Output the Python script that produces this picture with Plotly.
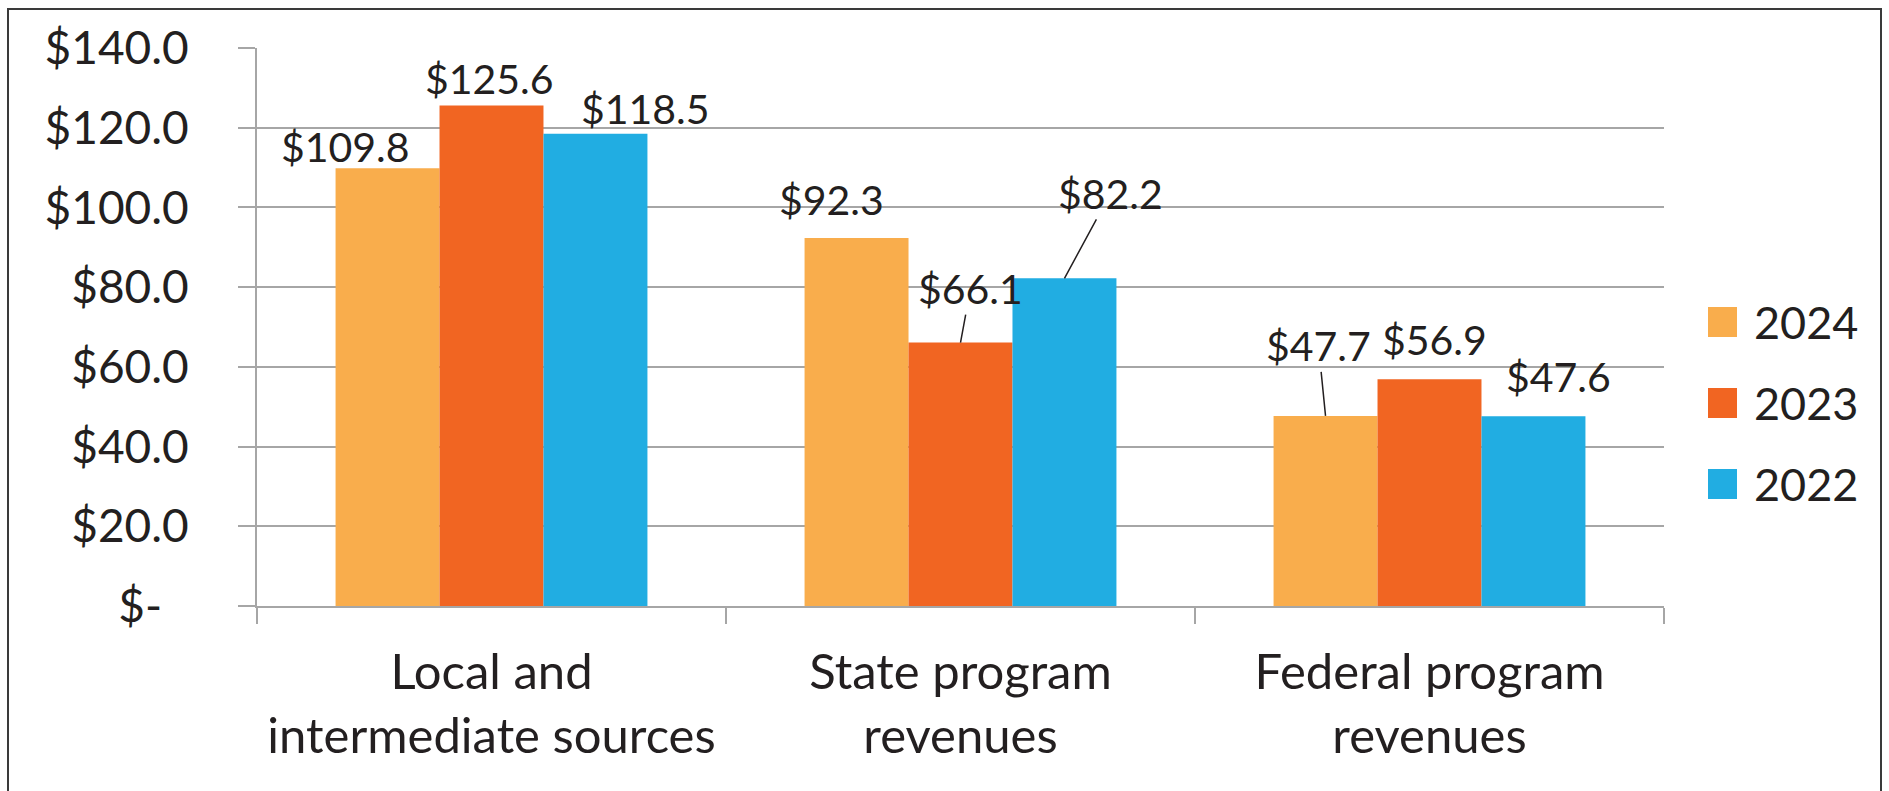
import plotly.graph_objects as go

# ---------------- data ----------------
categories = ["Local and<br>intermediate sources", "State program<br>revenues", "Federal program<br>revenues"]
series_names = ["2024", "2023", "2022"]
values_2024 = [109.8, 92.3, 47.7]
values_2023 = [125.6, 66.1, 56.9]
values_2022 = [118.5, 82.2, 47.6]
y_tick_vals = [0, 20, 40, 60, 80, 100, 120, 140]
y_tick_text = ["$-\u2007", "$20.0", "$40.0", "$60.0", "$80.0", "$100.0", "$120.0", "$140.0"]

# ---------------- styles / layout ----------------
series_values = [values_2024, values_2023, values_2022]
colors = ["#F9AD4C", "#F16522", "#21ADE2"]
text_color = "#231F20"
grid_color = "#A6A6A6"
FONT = "Lato"

W, H = 1889, 791
ML, MR, MT, MB = 257, 225, 48, 185
PW, PH = W - ML - MR, H - MT - MB
bargap = 0.335
bw = (1 - bargap) / 3

# label offsets in pixels from bar-top centre (dx, dy; dy negative = up), leader flag
label_offsets = [
    [(-42, -22, False), (-25, -39, False), (-7, -70, True)],   # 2024
    [(-2, -27, False), (10, -54, True), (5, -40, False)],      # 2023
    [(50, -25, False), (46, -85, True), (25, -40, False)],     # 2022
]


def px2x(px):
    return (px - ML) / PW


def py2y(py):
    return (H - MB - py) / PH


fig = go.Figure()
for name, vals, col in zip(series_names, series_values, colors):
    fig.add_trace(go.Bar(
        x=categories, y=vals, name=name,
        marker=dict(color=col, line=dict(width=0)),
        showlegend=False,
    ))

annotations = []
for j, vals in enumerate(series_values):
    for i, v in enumerate(vals):
        dx, dy, leader = label_offsets[j][i]
        xpos = i + (j - 1) * bw
        txt = f"${v:.1f}"
        if leader:
            annotations.append(dict(
                x=xpos, y=v, xref="x", yref="y", text=txt,
                showarrow=True, arrowhead=0, arrowwidth=1.5, arrowcolor=text_color,
                ax=dx, ay=dy, standoff=0, startstandoff=0,
                font=dict(family=FONT, size=41, color=text_color),
            ))
        else:
            annotations.append(dict(
                x=xpos, y=v, xref="x", yref="y", text=txt,
                showarrow=False, xanchor="center", yanchor="middle",
                xshift=dx, yshift=-dy,
                font=dict(family=FONT, size=41, color=text_color),
            ))

# custom legend
shapes = []
legend_centers = [322, 403, 484]
for name, col, cy in zip(series_names, colors, legend_centers):
    shapes.append(dict(
        type="rect", xref="paper", yref="paper",
        x0=px2x(1708), x1=px2x(1737), y0=py2y(cy + 15), y1=py2y(cy - 15),
        fillcolor=col, line=dict(width=0),
    ))
    annotations.append(dict(
        x=px2x(1752), y=py2y(cy), xref="paper", yref="paper", text=name,
        showarrow=False, xanchor="left", yanchor="middle",
        font=dict(family=FONT, size=45, color=text_color),
    ))

# outer border
shapes.append(dict(
    type="rect", xref="paper", yref="paper",
    x0=px2x(8), x1=px2x(1881), y0=py2y(H + 20), y1=py2y(9),
    line=dict(color="#3A3A3A", width=2), fillcolor="rgba(0,0,0,0)",
))

fig.update_layout(
    width=W, height=H,
    margin=dict(l=ML, r=MR, t=MT, b=MB, pad=0),
    paper_bgcolor="white", plot_bgcolor="white",
    barmode="group", bargap=bargap, bargroupgap=0,
    font=dict(family=FONT, color=text_color),
    annotations=annotations, shapes=shapes,
    showlegend=False,
)
fig.update_yaxes(
    range=[0, 140], tickvals=y_tick_vals, ticktext=y_tick_text,
    showgrid=True, gridcolor=grid_color, gridwidth=2,
    showline=True, linecolor=grid_color, linewidth=2,
    ticks="outside", ticklen=17, tickcolor=grid_color, tickwidth=2,
    tickfont=dict(family=FONT, size=46, color=text_color),
    ticklabelstandoff=40, zeroline=False,
)
fig.update_xaxes(
    showline=True, linecolor=grid_color, linewidth=2,
    ticks="outside", tickson="boundaries", ticklen=16, tickcolor=grid_color, tickwidth=2,
    tickfont=dict(family=FONT, size=49, color=text_color),
    ticklabelstandoff=22, showgrid=False,
)

fig.write_html("out.html", config={"displayModeBar": False},
               post_script="document.body.style.margin='0';document.body.style.overflow='hidden';")
